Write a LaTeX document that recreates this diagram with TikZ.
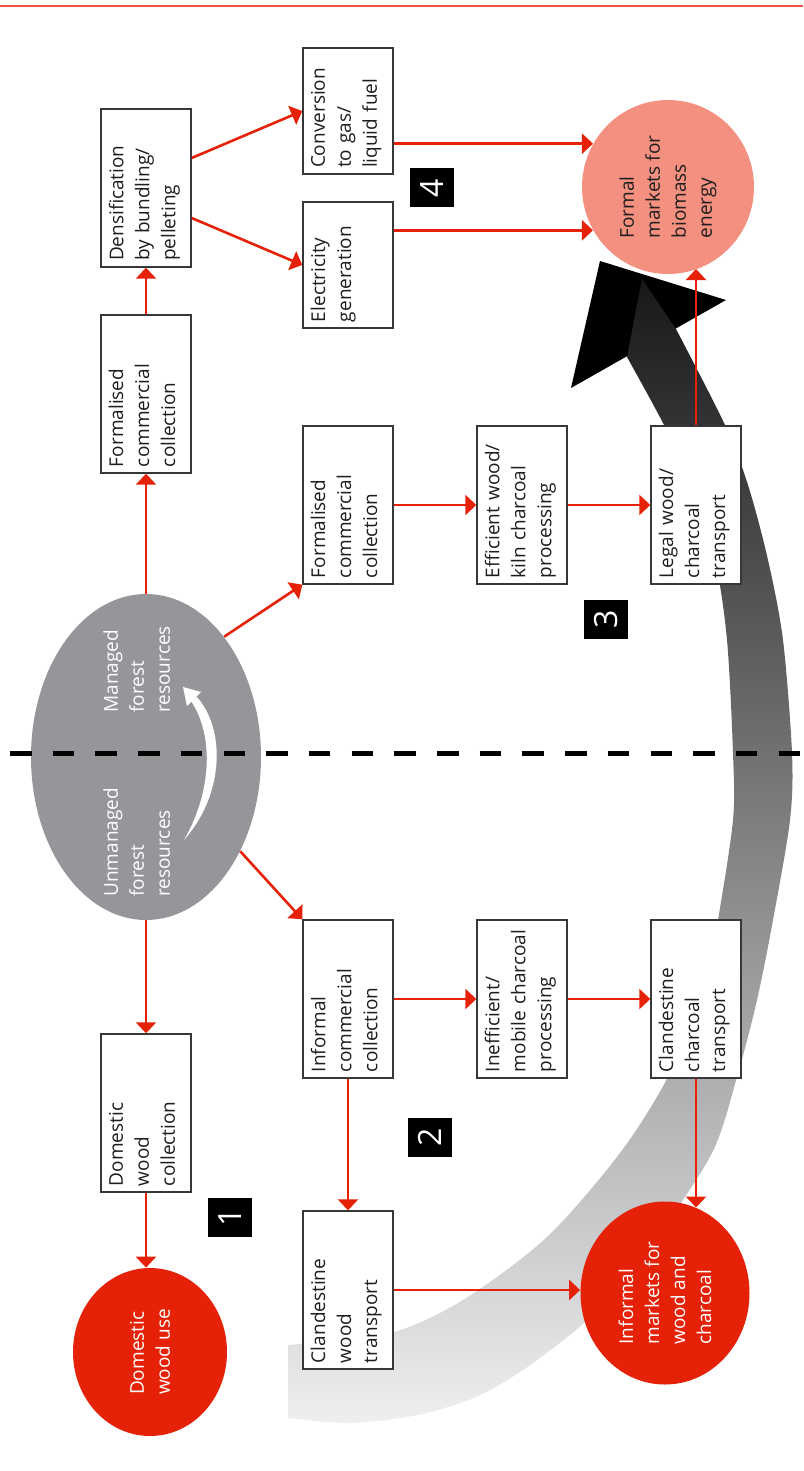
\documentclass[tikz,border=0pt]{standalone}
\usepackage{fontspec}
\setmainfont{Open Sans}
\usetikzlibrary{calc, shapes.geometric, arrows.meta}
\definecolor{flowred}{RGB}{229,34,7}
\definecolor{rulered}{RGB}{238,84,64}
\definecolor{forestgray}{RGB}{150,149,154}
\definecolor{formalpink}{RGB}{243,144,128}
\definecolor{edgegray}{RGB}{55,55,55}
\definecolor{inkgray}{RGB}{30,30,30}
\definecolor{bandtop}{RGB}{24,24,26}
\definecolor{bandbottom}{RGB}{238,239,240}
\tikzset{
  font=\fontsize{9.5}{13}\selectfont,
  stage/.style = {
    draw=edgegray, line width=0.7pt, fill=white, text=inkgray,
    rotate=90, align=left,
    minimum width=79pt, minimum height=45pt,
    text width=73pt, inner xsep=3pt, inner ysep=3pt,
    text depth=30pt % keeps the text at the top of every box
  },
  shortstage/.style = {
    stage, minimum width=63pt, text width=57pt
  },
  market/.style = {
    ellipse, rotate=90, align=left, inner sep=0pt
  },
  tag/.style = {
    fill=black, text=white, rotate=90, inner sep=0pt,
    minimum width=19.5pt, minimum height=22pt,
    font=\fontsize{16}{16}\selectfont
  },
  flow/.style = {
    draw=flowred, line width=1.3pt,
    -{Triangle[length=5.5pt, width=10pt]}
  }
}

\begin{document}
\begin{tikzpicture}[x=0.5pt, y=-0.5pt]

  \useasboundingbox (0,0) rectangle (803,1471);
  \draw[rulered, line width=1pt] (0,6) -- (803,6);

  % big return arrow behind everything
  \fill[black] (600,261) -- (726,300) -- (571,388) -- cycle;
  \shade[top color=bandtop, bottom color=bandbottom]
    (642,279)
    -- plot[smooth] coordinates {(676,329) (725,425) (748,485) (768,560)
      (783,640) (792,753) (790,820) (773,920) (757,1000) (737,1077)
      (712,1153) (655,1240) (606,1300) (576,1330) (523,1370) (476,1397)
      (418,1415) (350,1423) (288,1418)}
    -- plot[smooth] coordinates {(288,1345) (390,1333) (463,1300)
      (547,1237) (620,1153) (668,1077) (705,990) (718,920) (733,820)
      (733,753) (727,640) (715,560) (690,480) (663,423) (627,357)}
    -- cycle;

  \node[ellipse, fill=forestgray, minimum width=115pt, minimum height=163pt] (forest) at (146,757) {};
  \draw[line width=2.5pt, dash pattern=on 10.75pt off 10.6pt] (10,753) -- (803,753);
  \node[rotate=90, anchor=north west, inner sep=0pt, align=left, text=white] (unmanaged) at (103,897) {Unmanaged\\forest\\resources};
  \node[rotate=90, anchor=north west, inner sep=0pt, align=left, text=white] (managed) at (103,713) {Managed\\forest\\resources};
  \fill[white] (184,840) .. controls (224,795) and (226,730) .. (197,697)
    -- (191,701) .. controls (214,735) and (212,792) .. (184,840) -- cycle;
  \fill[white] (183,687) -- (201,692) -- (187,706) -- cycle;

  \node[market, fill=flowred, text=white, minimum width=84pt, minimum height=77pt] (dwu) at (150,1352) {Domestic\\wood use};
  \node[market, fill=flowred, text=white, minimum width=91.5pt, minimum height=84.5pt] (imkt) at (665,1293) {Informal\\markets for\\wood and\\charcoal};
  \node[market, fill=formalpink, text=inkgray, minimum width=87pt, minimum height=86pt] (fmkt) at (668,187) {Formal\\markets for\\biomass\\energy};

  \node[stage] (dens) at (146,188) {Densification\\by bundling/\\pelleting};
  \node[stage] (fcc1) at (146,394) {Formalised\\commercial\\collection};
  \node[stage] (dwc) at (146,1113) {Domestic\\wood\\collection};
  \node[shortstage] (conv) at (348,111) {Conversion\\to gas/\\liquid fuel};
  \node[shortstage] (elec) at (348,265) {Electricity\\generation};
  \node[stage] (fcc2) at (348,505) {Formalised\\commercial\\collection};
  \node[stage] (eff) at (522,505) {Efficient wood/\\kiln charcoal\\processing};
  \node[stage] (legal) at (696,505) {Legal wood/\\charcoal\\transport};
  \node[stage] (icc) at (348,999) {Informal\\commercial\\collection};
  \node[stage] (ineff) at (522,999) {Inefficient/\\mobile charcoal\\processing};
  \node[stage] (cct) at (696,999) {Clandestine\\charcoal\\transport};
  \node[stage] (cwt) at (348,1290) {Clandestine\\wood\\transport};

  \node[tag] (t1) at (230,1217) {1};
  \node[tag] (t2) at (430,1137) {2};
  \node[tag] (t3) at (606,619) {3};
  \node[tag] (t4) at (432,188) {4};

  \draw[flow] (forest) -- (dwc);
  \draw[flow] (dwc.west) -- (dwc.west |- dwu.east);
  \draw[flow] (forest) -- (fcc1);
  \draw[flow] (fcc1) -- (dens);
  \draw[flow] ($(dens.south)+(0,-30)$) -- (conv.north);
  \draw[flow] ($(dens.south)+(0,30)$) -- (elec.north);
  \draw[flow] (conv.south |- fmkt.60) -- (fmkt.60);
  \draw[flow] (elec.south |- fmkt.120) -- (fmkt.120);
  \draw[flow] (forest.57) -- (fcc2.north west);
  \draw[flow] (fcc2) -- (eff);
  \draw[flow] (eff) -- (legal);
  \draw[flow] (legal.east) -- (legal.east |- fmkt.-160);
  \draw[flow] (forest.-45) -- (icc.north east);
  \draw[flow] (icc) -- (ineff);
  \draw[flow] (ineff) -- (cct);
  \draw[flow] (cct.west) -- (cct.west |- imkt.-20);
  \draw[flow] (icc) -- (cwt);
  \draw[flow] (cwt.south) -- (cwt.south -| imkt.north);

\end{tikzpicture}
\end{document}
